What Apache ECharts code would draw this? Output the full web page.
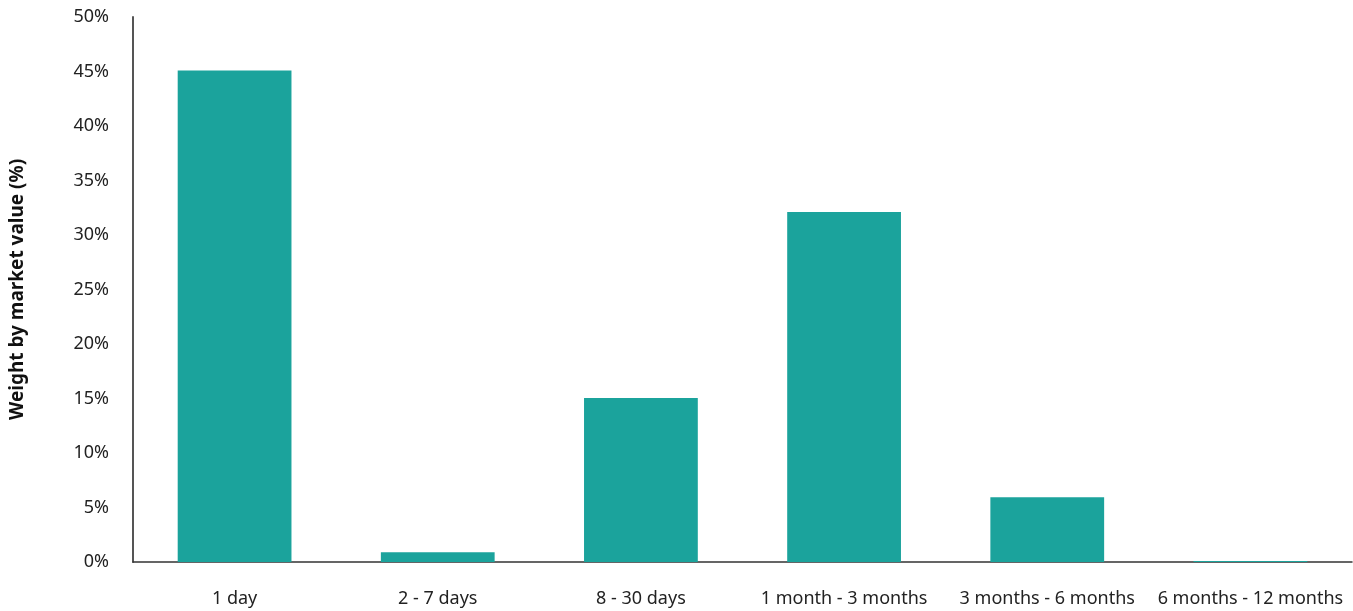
<!DOCTYPE html>
<html><head><meta charset="utf-8">
<script src="https://cdn.jsdelivr.net/npm/echarts@6/dist/echarts.min.js"></script>
<style>html,body{margin:0;padding:0;background:#fff}#c{width:1353px;height:611px}</style>
</head><body><div id="c"></div>
<script>
const categories = ['1 day', '2 - 7 days', '8 - 30 days', '1 month - 3 months', '3 months - 6 months', '6 months - 12 months'];
const weights = [45.1, 0.9, 15.05, 32.1, 5.95, 0.1];
const yAxisTitle = 'Weight by market value (%)';

const chart = echarts.init(document.getElementById('c'));
chart.setOption({
  animation: false,
  grid: { left: 133, right: 1, top: 17, bottom: 49, containLabel: false, outerBoundsMode: 'none' },
  xAxis: {
    type: 'category', data: categories,
    axisLine: { lineStyle: { color: '#333', width: 1.5 } },
    axisTick: { show: false },
    axisLabel: { color: '#222', fontSize: 18, fontFamily: 'Noto Sans', margin: 28, interval: 0, hideOverlap: false }
  },
  yAxis: {
    type: 'value', min: 0, max: 50, interval: 5,
    name: yAxisTitle, nameLocation: 'middle', nameGap: 106,
    nameTextStyle: { color: '#111', fontSize: 19, fontWeight: 'bold', fontFamily: 'Noto Sans' },
    axisLine: { show: true, lineStyle: { color: '#555', width: 2 } },
    axisTick: { show: false },
    splitLine: { show: false },
    axisLabel: { color: '#222', fontSize: 18, fontFamily: 'Noto Sans', margin: 24, formatter: '{value}%' }
  },
  series: [{
    type: 'bar', data: weights, barWidth: '56%',
    itemStyle: { color: '#1ba39c' }
  }]
});
</script></body></html>
